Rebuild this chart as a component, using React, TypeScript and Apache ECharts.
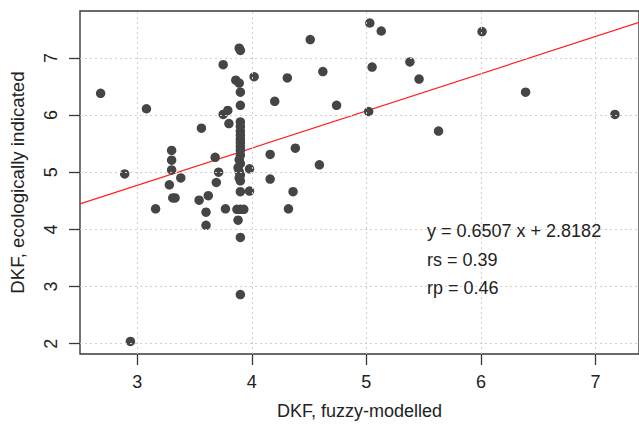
import React, { useEffect, useRef } from "react";
import * as echarts from "echarts";

const xFuzzy: number[] = [
  2.68, 2.89, 3.08, 3.16, 2.94, 3.30, 3.30, 3.30, 3.28, 3.38, 3.31, 3.33, 3.54, 3.62, 3.60, 3.60,
  3.56, 3.68, 3.71, 3.69, 3.77, 3.75, 3.75, 3.79, 3.80, 3.89, 3.90, 3.86, 3.89, 3.90, 3.90,
  3.90, 3.90, 3.90, 3.90, 3.90, 3.90, 3.90, 3.90, 3.90, 3.89, 3.90, 3.88, 3.89, 3.90, 3.89, 3.90,
  3.98, 3.90, 3.98, 3.87, 3.90, 3.93, 3.88, 3.90, 3.90, 4.02, 4.20, 4.16, 4.16, 4.31, 4.32, 4.36,
  4.38, 4.51, 4.62, 4.74, 4.59, 5.03, 5.13, 5.05, 5.02, 5.38, 5.46, 5.63, 6.01, 6.39, 7.17,
];
const yEco: number[] = [
  6.38, 4.97, 6.11, 4.36, 2.04, 5.38, 5.21, 5.04, 4.78, 4.90, 4.55, 4.55, 4.51, 4.59, 4.30, 4.07,
  5.77, 5.26, 5.00, 4.82, 4.36, 6.88, 6.01, 6.08, 5.85, 7.17, 7.13, 6.61, 6.56, 6.40, 6.17,
  5.88, 5.80, 5.72, 5.65, 5.58, 5.52, 5.45, 5.38, 5.30, 5.22, 5.15, 5.08, 5.01, 4.95, 4.90, 4.85,
  5.06, 4.66, 4.67, 4.35, 4.35, 4.35, 4.16, 3.86, 2.86, 6.67, 6.24, 5.31, 4.88, 6.65, 4.36, 4.66,
  5.42, 7.32, 6.76, 6.17, 5.13, 7.61, 7.47, 6.84, 6.06, 6.93, 6.63, 5.72, 7.46, 6.40, 6.01,
];

const xTicks: number[] = [3, 4, 5, 6, 7];
const yTicks: number[] = [2, 3, 4, 5, 6, 7];
const slope = 0.6507;
const intercept = 2.8182;
const statTexts: string[] = ["y = 0.6507 x + 2.8182", "rs = 0.39", "rp = 0.46"];
const xName = "DKF, fuzzy-modelled";
const yName = "DKF, ecologically indicated";

const X_MIN = 2.5;
const X_MAX = 7.38;
const Y_MIN = 1.82;
const Y_MAX = 7.82;

const FONT = "'Liberation Sans', Arial, sans-serif";

export default function App() {
  const ref = useRef<HTMLDivElement>(null);
  useEffect(() => {
    if (!ref.current) return;
    const chart = echarts.init(ref.current, null, { renderer: "svg" });
    const points = xFuzzy.map((x, i) => [x, yEco[i]]);
    const gridStyle = { color: "#cfcfcf", type: [2, 3] as any, width: 1 };
    const gridLines = [
      ...xTicks.map((v) => ({ xAxis: v })),
      ...yTicks.map((v) => ({ yAxis: v })),
    ];
    chart.setOption({
      animation: false,
      backgroundColor: "#ffffff",
      textStyle: { fontFamily: FONT },
      grid: {
        left: 80,
        top: 11,
        bottom: 68,
        right: -6,
        show: true,
        borderColor: "#3a3a3a",
        borderWidth: 1.4,
        backgroundColor: "transparent",
      },
      xAxis: {
        type: "value",
        min: X_MIN,
        max: X_MAX,
        splitLine: { show: false },
        axisLine: { show: false },
        axisTick: {
          show: true,
          customValues: xTicks,
          length: 11,
          lineStyle: { color: "#3a3a3a", width: 1.3 },
        },
        axisLabel: {
          customValues: xTicks,
          margin: 19,
          fontSize: 18,
          color: "#222",
          fontFamily: FONT,
        },
        name: xName,
        nameLocation: "middle",
        nameGap: 48,
        nameTextStyle: { fontSize: 18, color: "#222", fontFamily: FONT },
      },
      yAxis: {
        type: "value",
        min: Y_MIN,
        max: Y_MAX,
        splitLine: { show: false },
        axisLine: { show: false },
        axisTick: {
          show: true,
          customValues: yTicks,
          length: 11,
          lineStyle: { color: "#3a3a3a", width: 1.3 },
        },
        axisLabel: {
          customValues: yTicks,
          margin: 20,
          rotate: 90,
          fontSize: 18,
          color: "#222",
          fontFamily: FONT,
        },
        name: yName,
        nameLocation: "middle",
        nameGap: 53,
        nameTextStyle: { fontSize: 18.7, color: "#222", fontFamily: FONT },
      },
      series: [
        {
          type: "line",
          data: [],
          silent: true,
          z: 1,
          markLine: {
            silent: true,
            symbol: "none",
            label: { show: false },
            lineStyle: gridStyle,
            data: gridLines,
          },
        },
        {
          type: "line",
          data: [
            [X_MIN, intercept + slope * X_MIN],
            [X_MAX, intercept + slope * X_MAX],
          ],
          showSymbol: false,
          symbol: "none",
          lineStyle: { color: "#ff2020", width: 1.2 },
          silent: true,
          z: 2,
        },
        {
          type: "scatter",
          data: points,
          symbolSize: 9.5,
          itemStyle: { color: "#454545", opacity: 1 },
          z: 3,
        },
      ],
      graphic: statTexts.map((t, i) => ({
        type: "text",
        left: 427,
        top: 233 + i * 28.5 - 11,
        z: 10,
        style: {
          text: t,
          fontSize: 18,
          fontFamily: FONT,
          fill: "#222",
        },
      })),
    });
    return () => chart.dispose();
  }, []);
  return <div ref={ref} style={{ width: 639, height: 425, position: "absolute", left: 0, top: 0 }} />;
}
